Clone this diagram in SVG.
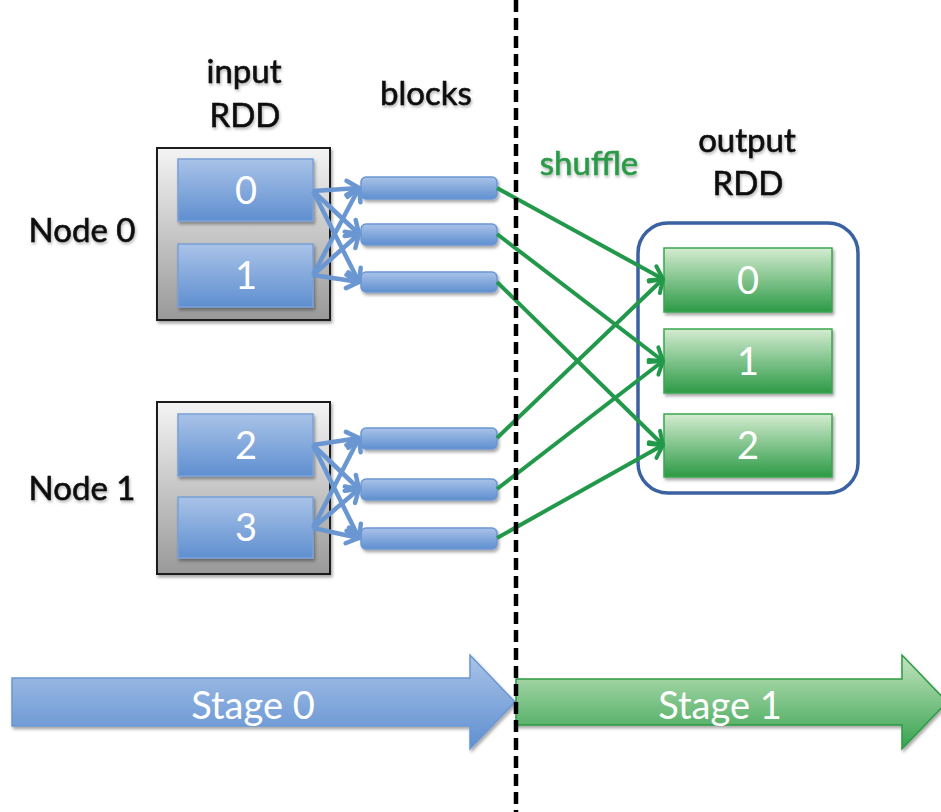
<svg xmlns="http://www.w3.org/2000/svg" width="941" height="812" viewBox="0 0 941 812">
<defs>
<linearGradient id="gBlue" x1="0" y1="0" x2="0" y2="1"><stop offset="0" stop-color="#a9c3e8"/><stop offset="1" stop-color="#5f8fd0"/></linearGradient>
<linearGradient id="gGreen" x1="0" y1="0" x2="0" y2="1"><stop offset="0" stop-color="#d4ecd0"/><stop offset="1" stop-color="#2c9a46"/></linearGradient>
<linearGradient id="gGreenArrow" x1="0" y1="0" x2="0" y2="1"><stop offset="0" stop-color="#c4e4bf"/><stop offset="1" stop-color="#36a24f"/></linearGradient>
<linearGradient id="gGray" x1="0" y1="0" x2="0" y2="1"><stop offset="0" stop-color="#f4f4f4"/><stop offset="1" stop-color="#999999"/></linearGradient>
<filter id="sh" x="-20%" y="-20%" width="140%" height="150%"><feDropShadow dx="1.5" dy="2.5" stdDeviation="1.5" flood-color="#000" flood-opacity="0.35"/></filter>
<filter id="tsh" x="-20%" y="-20%" width="140%" height="150%"><feDropShadow dx="1" dy="2" stdDeviation="1.5" flood-color="#000" flood-opacity="0.3"/></filter>
<marker id="aBlue" viewBox="0 0 18 22" refX="15" refY="11" markerWidth="18" markerHeight="22" markerUnits="userSpaceOnUse" orient="auto"><path d="M3,3 L15,11 L3,19" fill="none" stroke="#6a96d2" stroke-width="4.5" stroke-linecap="round" stroke-linejoin="round"/></marker>
<marker id="aGreen" viewBox="0 0 18 22" refX="15" refY="11" markerWidth="18" markerHeight="22" markerUnits="userSpaceOnUse" orient="auto"><path d="M3,3 L15,11 L3,19" fill="none" stroke="#22994a" stroke-width="4" stroke-linecap="round" stroke-linejoin="round"/></marker>
<style>
.lbl{font-family:Lato,"Liberation Sans",sans-serif;font-size:33px;fill:#111;stroke:#111;stroke-width:0.6;text-anchor:middle;filter:url(#tsh)}
.num{font-family:Lato,"Liberation Sans",sans-serif;font-size:38px;fill:#fff;text-anchor:middle}
.stg{font-family:Lato,"Liberation Sans",sans-serif;font-size:38px;fill:#fff;text-anchor:middle}
.box{fill:url(#gGray);stroke:#1a1a1a;stroke-width:2;filter:url(#sh)}
.part{fill:url(#gBlue);stroke:#7aa0d6;stroke-width:1.5;filter:url(#sh)}
.blk{fill:url(#gBlue);stroke:#6a96d2;stroke-width:1.5;filter:url(#sh)}
.opart{fill:url(#gGreen);stroke:#3aa650;stroke-width:1.5;filter:url(#sh)}
.bl{stroke:#6a96d2;stroke-width:4.5;fill:none;marker-end:url(#aBlue)}
.gl{stroke:#22994a;stroke-width:4;fill:none;marker-end:url(#aGreen)}
</style>
</defs>
<rect width="941" height="812" fill="#fff"/>

<g id="stage0"><polygon points="12,678 470,678 470,655 515,702 470,749 470,726 12,726" fill="url(#gBlue)" stroke="#6a96d2" stroke-width="1.5" filter="url(#sh)"/><text class="stg" x="253" y="719">Stage 0</text></g>
<g id="stage1"><polygon points="516,679 902,679 902,655 947,702 902,749 902,725 516,725" fill="url(#gGreenArrow)" stroke="#2e9a44" stroke-width="1.5" filter="url(#sh)"/><text class="stg" x="720" y="719">Stage 1</text></g>

<g id="labels">
<text class="lbl" x="244" y="83">input</text>
<text class="lbl" x="245" y="127">RDD</text>
<text class="lbl" x="426" y="105">blocks</text>
<text class="lbl" x="589" y="175" style="fill:#2a9a48;stroke:#2a9a48">shuffle</text>
<text class="lbl" x="747" y="152">output</text>
<text class="lbl" x="748" y="195">RDD</text>
</g>

<g id="node0"><rect class="box" x="157" y="148" width="173" height="172"/><text class="lbl" x="82" y="242">Node 0</text></g>
<g id="node1"><rect class="box" x="157" y="402" width="173" height="172"/><text class="lbl" x="82" y="500">Node 1</text></g>

<g id="in-p0"><rect class="part" x="178" y="159" width="135" height="62"/><text class="num" x="246" y="204">0</text></g>
<g id="in-p1"><rect class="part" x="178" y="244" width="135" height="63"/><text class="num" x="246" y="289">1</text></g>
<g id="in-p2"><rect class="part" x="178" y="414" width="135" height="62"/><text class="num" x="246" y="459">2</text></g>
<g id="in-p3"><rect class="part" x="178" y="497" width="135" height="61"/><text class="num" x="246" y="541">3</text></g>

<g id="block0"><rect class="blk" x="361" y="177" width="136" height="22" rx="5"/></g>
<g id="block1"><rect class="blk" x="361" y="224" width="136" height="21" rx="5"/></g>
<g id="block2"><rect class="blk" x="361" y="272" width="136" height="20" rx="5"/></g>
<g id="block3"><rect class="blk" x="361" y="428" width="136" height="21" rx="5"/></g>
<g id="block4"><rect class="blk" x="361" y="479" width="136" height="21" rx="5"/></g>
<g id="block5"><rect class="blk" x="361" y="528" width="136" height="21" rx="5"/></g>

<g id="output-rdd"><rect x="638" y="223" width="220" height="270" rx="30" fill="#fff" stroke="#3b62a0" stroke-width="3.5"/></g>
<g id="out-p0"><rect class="opart" x="664" y="248" width="168" height="64"/><text class="num" x="748" y="294">0</text></g>
<g id="out-p1"><rect class="opart" x="664" y="329" width="168" height="64"/><text class="num" x="748" y="375">1</text></g>
<g id="out-p2"><rect class="opart" x="664" y="414" width="168" height="63"/><text class="num" x="748" y="459">2</text></g>

<g id="connectors">
<line class="bl" x1="313" y1="191" x2="359" y2="188"/>
<line class="bl" x1="313" y1="191" x2="359" y2="234"/>
<line class="bl" x1="313" y1="191" x2="359" y2="282"/>
<line class="bl" x1="313" y1="275" x2="359" y2="188"/>
<line class="bl" x1="313" y1="275" x2="359" y2="234"/>
<line class="bl" x1="313" y1="275" x2="359" y2="282"/>
<line class="bl" x1="313" y1="445" x2="359" y2="438"/>
<line class="bl" x1="313" y1="445" x2="359" y2="489"/>
<line class="bl" x1="313" y1="445" x2="359" y2="538"/>
<line class="bl" x1="313" y1="528" x2="359" y2="438"/>
<line class="bl" x1="313" y1="528" x2="359" y2="489"/>
<line class="bl" x1="313" y1="528" x2="359" y2="538"/>
<line class="gl" x1="497" y1="188" x2="663" y2="279"/>
<line class="gl" x1="497" y1="234" x2="663" y2="361"/>
<line class="gl" x1="497" y1="282" x2="663" y2="445"/>
<line class="gl" x1="497" y1="438" x2="663" y2="279"/>
<line class="gl" x1="497" y1="489" x2="663" y2="361"/>
<line class="gl" x1="497" y1="538" x2="663" y2="445"/>
</g>

<g id="divider"><line x1="516" y1="0" x2="516" y2="812" stroke="#000" stroke-width="4.5" stroke-dasharray="12,6"/></g>
</svg>
